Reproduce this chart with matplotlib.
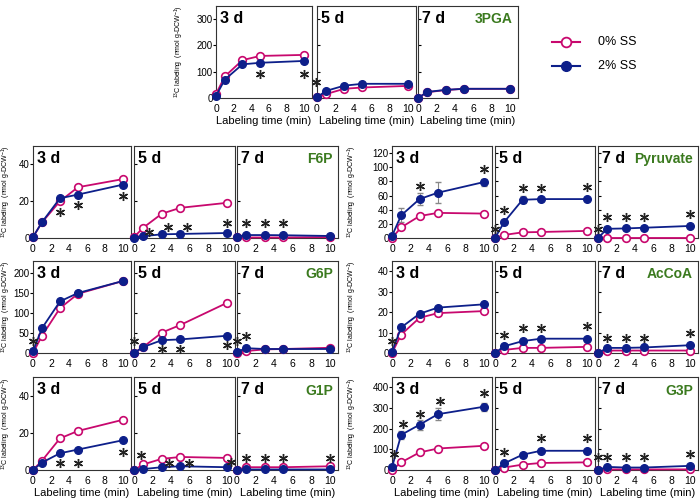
import matplotlib
matplotlib.use("Agg")
import matplotlib.pyplot as plt
import numpy as np

plt.rcParams['font.family'] = ['Liberation Sans', 'DejaVu Sans']
plt.rcParams['mathtext.fontset'] = 'custom'
plt.rcParams['mathtext.rm'] = 'Liberation Sans'

# tiempos de marcaje (min)
t = [0, 1, 3, 5, 10]
dias = ["3 d", "5 d", "7 d"]

# valores por metabolito: una lista por dia (3d, 5d, 7d)
pga_0 = [[15, 82, 144, 160, 164], [5, 15, 35, 40, 46], [0, 22, 30, 35, 35]]
pga_2 = [[8, 70, 128, 134, 141], [3, 27, 47, 54, 54], [0, 23, 31, 35, 35]]

f6p_0 = [[0.5, 8.5, 20, 27.6, 32], [0.5, 5.6, 13.2, 16.4, 19.1], [0.3, 0.3, 0.3, 0.3, 0.5]]
f6p_2 = [[0.5, 8.6, 21.6, 23.6, 29], [0.2, 1, 2, 2.2, 2.7], [0.8, 1.6, 1.6, 1.5, 1.1]]

g6p_0 = [[0, 43, 112, 148, 180], [0, 15, 51, 70, 125], [0, 5, 9, 10, 13]]
g6p_2 = [[4, 62, 129, 150, 180], [0, 15, 32, 34, 43], [3, 12, 10, 10, 10]]

g1p_0 = [[0, 5, 17, 21, 27], [0, 3, 6, 7, 6.5], [0, 1.5, 1.5, 1.5, 2]]
g1p_2 = [[0, 4, 9, 11, 16], [0, 0.5, 1.5, 2, 1.5], [0, 0.3, 0.3, 0.3, 0.3]]

pyr_0 = [[0, 15, 31, 35.5, 34.5], [0, 4.3, 8, 8.5, 10], [0, 0, 0, 0, 0]]
pyr_2 = [[3, 32, 55, 64, 79], [0, 22.5, 54, 55, 55], [0, 13, 13.5, 14.5, 17]]
pyr_2_err = [[0, 10, 8, 15, 5], [0, 3, 5, 2, 2], [0, 2, 2, 2, 3]]

acc_0 = [[0, 9, 17.2, 19.5, 20.5], [0, 1.5, 2.5, 2.5, 3], [0, 1.2, 1.2, 1.2, 1.2]]
acc_2 = [[0.5, 12.5, 19.2, 22.2, 23.8], [0, 3.3, 5.8, 7, 7], [0, 2.5, 2.5, 2.7, 3.8]]

g3p_0 = [[0, 37, 85, 104, 117], [0, 12, 26, 34, 37], [0, 3, 3, 3, 3]]
g3p_2 = [[13, 170, 219, 270, 306], [0, 32, 74, 93, 93], [0, 15, 12, 12, 20]]
g3p_2_err = [[5, 20, 25, 30, 20], [0, 5, 10, 5, 5], [0, 2, 2, 2, 2]]

# asteriscos de significancia (x, y) por dia
pga_sig = [[(5, 93), (10, 93)], [(-0.1, 60)], []]
f6p_sig = [[(3, 14), (5, 18), (10, 22.7)], [(1.6, 3.2), (3.7, 6), (5.7, 6), (10, 8.1)], [(1, 8), (3, 8), (5, 8)]]
g6p_sig = [[(0, 30)], [(0, 30), (3, 9), (5, 9), (10, 21)], [(0, 30), (1, 42)]]
g1p_sig = [[(3, 3.5), (5, 3.9), (10, 9.6)], [(0.8, 7.8), (3.8, 3.9), (5.9, 3.9), (10.5, 4.4)], [(1, 6.7), (3, 6.7), (5, 6.7), (10, 6.7)]]
pyr_sig = [[(3, 73), (10, 97)], [(0, 13), (1, 39), (3, 70), (5, 70), (10, 72)], [(0, 13), (1, 30), (3, 30), (5, 30), (10, 34)]]
acc_sig = [[(0, 5.8)], [(1, 9), (3, 12), (5, 12), (10, 13)], [(1, 7.5), (3, 7.5), (5, 7.5), (10, 10)]]
g3p_sig = [[(0.2, 79), (1.2, 222), (3.1, 273), (5.2, 335), (10, 375)], [(1, 85), (5, 155), (10, 155)], [(0, 61), (1, 61), (3, 61), (5, 61), (10, 77)]]

rosa = "#c8086e"
azul = "#0d1f8a"
verde = "#3b7a1f"
ylab = "$^{13}$C labeling  (nmol g-DCW$^{-1}$)"

fig = plt.figure(figsize=(7, 5), dpi=100)


def caja(x0, y0, x1, y1):
    # coordenadas en pixeles (origen arriba a la izquierda)
    return fig.add_axes([x0 / 700, 1 - y1 / 500, (x1 - x0) / 700, (y1 - y0) / 500])


def fila(xs, y0, y1, d0, d2, sig, nombre, ymax, yticks, err=None, xlabel=False, labx=-0.25):
    for i in range(3):
        ax = caja(xs[i][0], y0, xs[i][1], y1)
        ax.plot(t, d0[i], "-o", color=rosa, mfc="white", mec=rosa, ms=5.5, mew=1.2, lw=1.3, clip_on=False, zorder=3)
        if err is not None:
            ax.errorbar(t, d2[i], yerr=err[i], fmt="none", ecolor="#888888", elinewidth=0.8, capsize=2, zorder=2, clip_on=False)
        ax.plot(t, d2[i], "-o", color=azul, mfc=azul, mec=azul, ms=5.5, lw=1.3, clip_on=False, zorder=4)
        if sig[i]:
            sx = [p[0] for p in sig[i]]
            sy = [p[1] for p in sig[i]]
            ax.plot(sx, sy, linestyle="none", marker=(6, 2, 0), ms=6.5, mew=1.0, color="#222222", clip_on=False, zorder=5)
        ax.set_xlim(0, 10.9)
        ax.set_ylim(0, ymax)
        ax.set_xticks([0, 2, 4, 6, 8, 10])
        ax.set_yticks(yticks)
        ax.tick_params(axis="x", labelsize=7.5, length=0, pad=4)
        if i == 0:
            ax.tick_params(axis="y", labelsize=7, length=2, direction="out", pad=0.5)
            ax.set_ylabel(ylab, fontsize=5)
            ax.yaxis.set_label_coords(labx, 0.5)
        else:
            ax.tick_params(axis="y", labelleft=False, length=2, direction="in")
        for s in ax.spines.values():
            s.set_linewidth(0.8)
            s.set_color("#333333")
        ax.text(0.04, 0.95, dias[i], transform=ax.transAxes, ha="left", va="top", fontsize=11.5, fontweight="bold")
        if i == 2:
            ax.text(0.95, 0.93, nombre, transform=ax.transAxes, ha="right", va="top", fontsize=10, fontweight="bold", color=verde)
        if xlabel:
            ax.set_xlabel("Labeling time (min)", fontsize=8, labelpad=2)


top_x = [(216, 312), (317, 416), (418, 518)]
izq_x = [(33, 131), (134, 235), (237, 338)]
der_x = [(392, 492), (495, 595), (598, 698)]

fila(top_x, 6, 98, pga_0, pga_2, pga_sig, "3PGA", 350, [0, 100, 200, 300], xlabel=True, labx=-0.31)
fila(izq_x, 146, 238, f6p_0, f6p_2, f6p_sig, "F6P", 50, [0, 20, 40], labx=-0.205)
fila(izq_x, 261, 353, g6p_0, g6p_2, g6p_sig, "G6P", 230, [0, 50, 100, 150, 200], labx=-0.205)
fila(izq_x, 377, 470, g1p_0, g1p_2, g1p_sig, "G1P", 50, [0, 20, 40], xlabel=True, labx=-0.205)
fila(der_x, 146, 238, pyr_0, pyr_2, pyr_sig, "Pyruvate", 130, [0, 20, 40, 60, 80, 100, 120], err=pyr_2_err, labx=-0.33)
fila(der_x, 261, 353, acc_0, acc_2, acc_sig, "AcCoA", 45, [0, 10, 20, 30, 40], labx=-0.33)
fila(der_x, 377, 470, g3p_0, g3p_2, g3p_sig, "G3P", 450, [0, 100, 200, 300, 400], err=g3p_2_err, xlabel=True, labx=-0.33)

# leyenda hecha a mano
lx = caja(540, 25, 700, 85)
lx.set_xlim(540, 700)
lx.set_ylim(85, 25)
lx.axis("off")
lx.plot([552, 580], [42, 42], "-", color=rosa, lw=1.5)
lx.plot([566], [42], "o", mfc="white", mec=rosa, ms=7, mew=1.3)
lx.plot([552, 580], [66, 66], "-", color=azul, lw=1.5)
lx.plot([566], [66], "o", color=azul, ms=7)
lx.text(598, 42, "0% SS", fontsize=9, va="center")
lx.text(598, 66, "2% SS", fontsize=9, va="center")

fig.savefig("out.png", dpi=100)
